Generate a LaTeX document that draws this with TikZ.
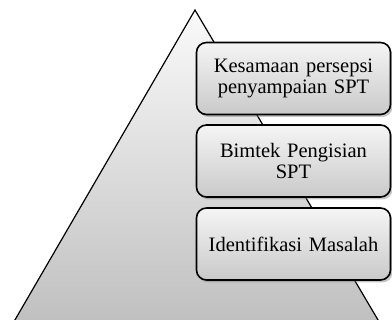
\documentclass[tikz,border=0pt]{standalone}
\usepackage{fontspec}
\setmainfont{Liberation Serif}
\usetikzlibrary{shadows}
\begin{document}
\begin{tikzpicture}[x=1pt,y=1pt,
  stepbox/.style={draw=black, line width=1.6pt, rounded corners=10pt,
    top color=gray!8, bottom color=gray!42,
    minimum width=194pt, minimum height=72pt, text width=192pt, align=center,
    font=\fontsize{20.5}{21}\selectfont, inner sep=0pt,
    drop shadow={opacity=0.45, shadow xshift=2pt, shadow yshift=-2.5pt}},
  pyramid/.style={draw=black, line width=1.2pt, top color=gray!4, bottom color=gray!50}]
\useasboundingbox (0,0) rectangle (392,320);
\begin{scope}
\clip (0,0) rectangle (392,320);
\path[pyramid] (195,310) -- (12,-5) -- (381,-5) -- cycle;
\end{scope}
\node[stepbox] (a) at (293.5,241.5) {Kesamaan persepsi\\penyampaian SPT};
\node[stepbox] (b) at (293.5,159) {Bimtek Pengisian\\SPT};
\node[stepbox] (c) at (293.5,76) {Identifikasi Masalah};
\end{tikzpicture}
\end{document}
